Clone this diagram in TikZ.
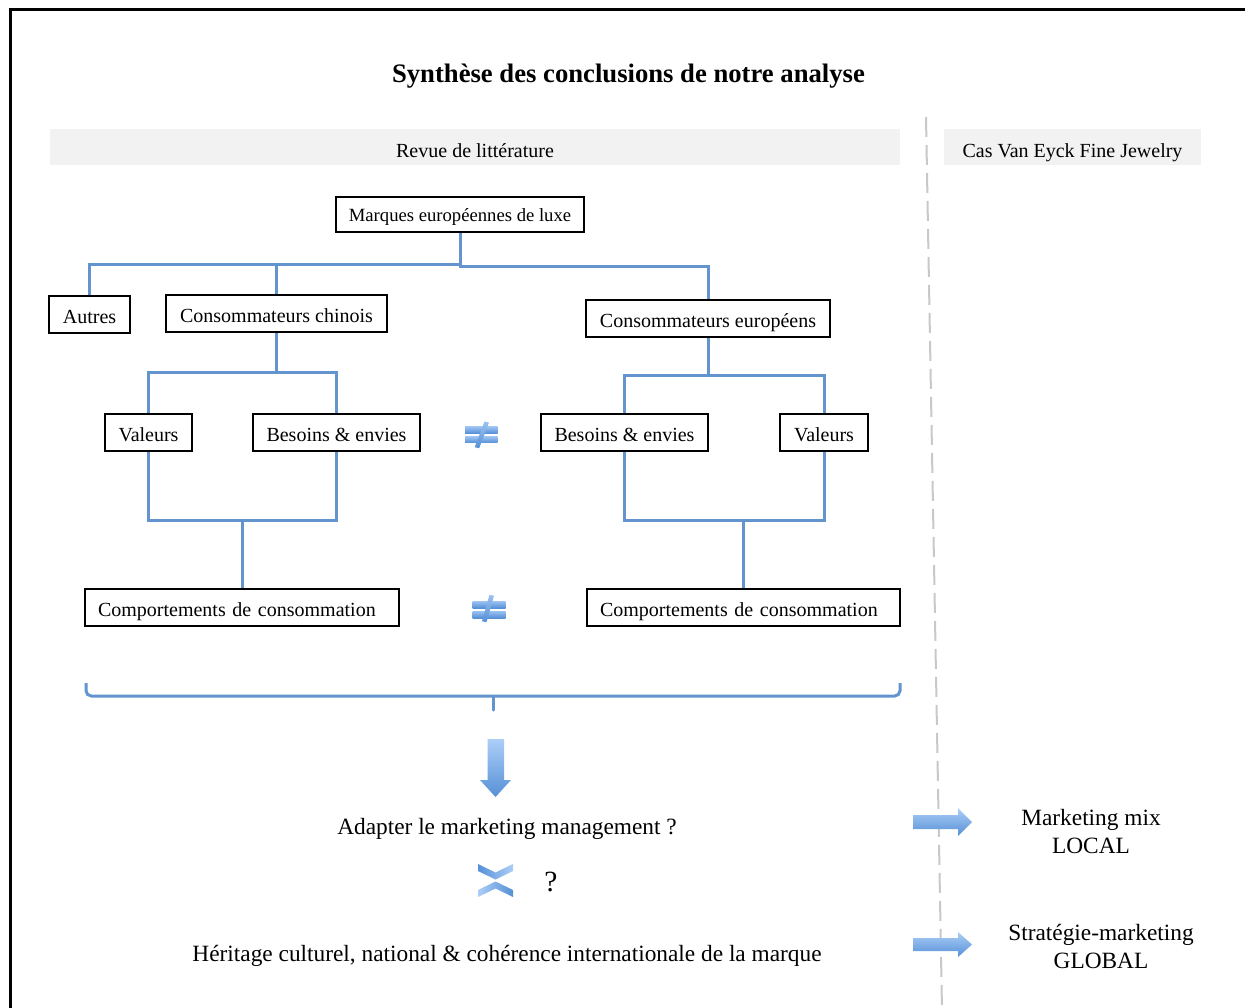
\documentclass[tikz,border=0pt]{standalone}
\usepackage{fontspec}
\setmainfont{Liberation Serif}
\definecolor{connblue}{RGB}{99,148,205}
\definecolor{lightb}{RGB}{172,206,247}
\definecolor{darkb}{RGB}{86,144,215}
\definecolor{dashgray}{RGB}{200,200,200}
\begin{document}
\begin{tikzpicture}[x=0.75pt,y=-0.75pt,
  box/.style={draw=black, line width=1.5pt, inner sep=0pt, text height=14pt, text depth=1pt, font=\fontsize{15}{18}\selectfont},
  conn/.style={draw=connblue, line width=2.25pt},
  lbl/.style={font=\fontsize{17.5}{21}\selectfont, align=center, inner sep=0pt},
  band/.style={fill=black!5, inner sep=0pt, minimum height=27pt, text height=16pt, text depth=0pt, font=\fontsize{15}{18}\selectfont},
  vshade/.style={top color=lightb, bottom color=darkb, draw=none},
  neq/.style={top color=lightb!80!darkb, bottom color=darkb, draw=none}]
\clip (0,0) rectangle (1245,1007);
\fill[white] (0,0) rectangle (1245,1007);
% frame
\draw[line width=2.25pt] (10,9) rectangle (1300,1100);
% title
\node[font=\fontsize{20}{24}\selectfont\bfseries, inner sep=0pt] (title) at (628.5,76) {Synthèse des conclusions de notre analyse};
% bands
\node[band, minimum width=637.5pt] (revue) at (475,147) {Revue de littérature};
\node[band, minimum width=192.75pt] (cas) at (1072.5,147) {Cas Van Eyck Fine Jewelry};
% dashed separator
\coordinate (sepTop) at (926,117);
\coordinate (sepBot) at (942,1010);
\draw[dashgray, line width=1.5pt, dash pattern=on 15pt off 6pt] (sepTop) -- (sepBot);
% boxes
\node[box, minimum width=186pt, minimum height=26.25pt, text height=12.5pt, text depth=2.5pt, font=\fontsize{14}{17}\selectfont] (marques) at (460,214.5) {Marques européennes de luxe};
\node[box, minimum width=60.75pt, minimum height=27.75pt] (autres) at (89.5,314.5) {Autres};
\node[box, minimum width=165.75pt, minimum height=27.75pt] (chinois) at (276.5,313.5) {Consommateurs chinois};
\node[box, minimum width=183pt, minimum height=27.75pt] (europ) at (708,318.5) {Consommateurs européens};
\node[box, minimum width=65.25pt, minimum height=27.75pt] (valL) at (148.5,432.5) {Valeurs};
\node[box, minimum width=125.25pt, minimum height=27.75pt] (besL) at (336.5,432.5) {Besoins \& envies};
\node[box, minimum width=125.25pt, minimum height=27.75pt] (besR) at (624.5,432.5) {Besoins \& envies};
\node[box, minimum width=66pt, minimum height=27.75pt] (valR) at (824,432.5) {Valeurs};
\node[box, minimum width=235.5pt, minimum height=27.75pt, text width=216pt, align=left] (compL) at (242,607.5) {Comportements de consommation};
\node[box, minimum width=234.75pt, minimum height=27.75pt, text width=215.25pt, align=left] (compR) at (743.5,607.5) {Comportements de consommation};
% connectors
\coordinate (busL) at (460,264);
\coordinate (busR) at (460,266);
\draw[conn] (marques.south) -- (busL) -| (autres.north);
\draw[conn] (busL -| chinois.north) -- (chinois.north);
\draw[conn] (marques.south) -- (busR) -| (europ.north);
\coordinate (midL) at (276.5,372);
\coordinate (midR) at (708,375);
\draw[conn] (chinois.south) -- (midL);
\draw[conn] (valL.north) -- (valL.north |- midL) -- (besL.north |- midL) -- (besL.north);
\draw[conn] (europ.south) -- (midR);
\draw[conn] (besR.north) -- (besR.north |- midR) -- (valR.north |- midR) -- (valR.north);
\coordinate (lowL) at (242,520);
\coordinate (lowR) at (743.5,520);
\draw[conn] (valL.south) -- (valL.south |- lowL) -- (besL.south |- lowL) -- (besL.south);
\draw[conn] (lowL) -- (compL.north);
\draw[conn] (besR.south) -- (besR.south |- lowR) -- (valR.south |- lowR) -- (valR.south);
\draw[conn] (lowR) -- (compR.north);
% not-equal signs
\begin{scope}
\shade[neq] (465,426.7) rectangle (497.7,433.3);
\shade[neq] (465,436.7) rectangle (497.7,442.7);
\shade[neq] (484.5,421.5) -- (489,422.5) -- (479.2,448.2) -- (474.7,447.2) -- cycle;
\shade[neq] (472.7,601.3) rectangle (505.7,608);
\shade[neq] (472.7,611) rectangle (505.7,618);
\shade[neq] (489.5,594.8) -- (494,595.8) -- (486.5,622.2) -- (482,621.2) -- cycle;
\end{scope}
% brace
\draw[conn, rounded corners=4pt] (86,683) -- (86,696) -- (900,696) -- (900,683);
\draw[conn, line cap=round] (493,696) -- (493,710);
% down arrow
\shade[vshade] (487.5,739) -- (504,739) -- (504,780) -- (511,780) -- (495.5,797) -- (480,780) -- (487.5,780) -- cycle;
% texts
\node[lbl] (adapter) at (507,829) {Adapter le marketing management ?};
\node[lbl] (heritage) at (507,956) {Héritage culturel, national \& cohérence internationale de la marque};
\node[lbl, font=\fontsize{22}{24}\selectfont] (question) at (551,882) {?};
\node[lbl] (local) at (1091,832) {Marketing mix\\LOCAL};
\node[lbl] (global) at (1101,946) {Stratégie-marketing\\GLOBAL};
% chevrons
\shade[left color=darkb, right color=lightb, draw=none] (478,864) -- (495.5,872.5) -- (513,864) -- (513,871) -- (495.5,879.5) -- (478,871) -- cycle;
\shade[left color=lightb, right color=darkb, draw=none] (478,890) -- (495.5,881.5) -- (513,890) -- (513,897) -- (495.5,888.5) -- (478,897) -- cycle;
% right arrows
\shade[vshade] (913,815) -- (958,815) -- (958,808) -- (972,822) -- (958,836) -- (958,829) -- (913,829) -- cycle;
\shade[vshade] (913,938) -- (958,938) -- (958,932) -- (972,944.5) -- (958,957) -- (958,951) -- (913,951) -- cycle;
\end{tikzpicture}
\end{document}
